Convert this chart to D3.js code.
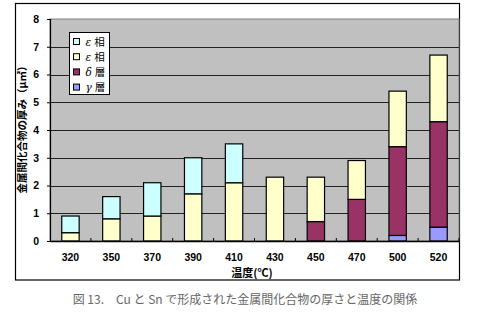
<!DOCTYPE html>
<html>
<head>
<meta charset="utf-8">
<script src="https://cdn.jsdelivr.net/npm/d3@7/dist/d3.min.js"></script>
<style>
  html, body { margin: 0; padding: 0; background: #fff; }
  svg { display: block; }
</style>
</head>
<body>
<svg id="chart" width="491" height="322"></svg>
<script>
// Temperatures (°C) on the category axis
const temperatures = ["320", "350", "370", "390", "410", "430", "450", "470", "500", "520"];

// Layer thicknesses (µm), stacked bottom to top
const gammaLayer   = [0, 0, 0, 0, 0, 0, 0, 0, 0.2, 0.5];
const deltaLayer   = [0, 0, 0, 0, 0, 0, 0.7, 1.5, 3.2, 3.8];
const epsYellow    = [0.3, 0.8, 0.9, 1.7, 2.1, 2.3, 1.6, 1.4, 2.0, 2.4];
const epsCyan      = [0.6, 0.8, 1.2, 1.3, 1.4, 0, 0, 0, 0, 0];

const yTicks = [0, 1, 2, 3, 4, 5, 6, 7, 8];

const seriesKeys   = ["gamma", "delta", "epsY", "epsC"];
const seriesColors = { gamma: "#9999FF", delta: "#993366", epsY: "#FFFFCC", epsC: "#CCFFFF" };
const legendItems  = [
  { key: "epsC",  sym: "ε", word: "相" },
  { key: "epsY",  sym: "ε", word: "相" },
  { key: "delta", sym: "δ", word: "層" },
  { key: "gamma", sym: "γ", word: "層" }
];

const rows = temperatures.map((t, i) => ({
  t, gamma: gammaLayer[i], delta: deltaLayer[i], epsY: epsYellow[i], epsC: epsCyan[i]
}));

const svg = d3.select("#chart");
const plot = { left: 50, top: 19, right: 459, bottom: 241 };

const x = d3.scaleBand().domain(temperatures).range([plot.left, plot.right]).paddingInner(0.575).paddingOuter(0.2875);
const y = d3.scaleLinear().domain([0, 8]).range([plot.bottom, plot.top]);

// Outer chart frame
svg.append("rect")
  .attr("x", 15.5).attr("y", 3.5).attr("width", 444).attr("height", 276.5)
  .attr("fill", "#fff").attr("stroke", "#000").attr("stroke-width", 1.2);

// Plot area background
svg.append("rect")
  .attr("x", plot.left).attr("y", plot.top)
  .attr("width", plot.right - plot.left).attr("height", plot.bottom - plot.top)
  .attr("fill", "#C0C0C0").attr("stroke", "#808080").attr("stroke-width", 1);

// Horizontal gridlines
svg.append("g").selectAll("line").data(yTicks.filter(d => d > 0 && d < 8)).join("line")
  .attr("x1", plot.left).attr("x2", plot.right)
  .attr("y1", d => Math.round(y(d)) + 0.5).attr("y2", d => Math.round(y(d)) + 0.5)
  .attr("stroke", "#222").attr("stroke-width", 1);

// Stacked bars
const stacked = d3.stack().keys(seriesKeys)(rows);
svg.append("g").selectAll("g").data(stacked).join("g")
  .attr("fill", s => seriesColors[s.key])
  .selectAll("rect").data(s => s.filter(d => d[1] - d[0] > 0)).join("rect")
  .attr("x", d => x(d.data.t))
  .attr("width", x.bandwidth())
  .attr("y", d => y(d[1]))
  .attr("height", d => y(d[0]) - y(d[1]))
  .attr("stroke", "#000").attr("stroke-width", 1.2);

// Y axis
const yAxis = d3.axisLeft(y).tickValues(yTicks).tickSize(3).tickPadding(8);
const gy = svg.append("g").attr("transform", `translate(${plot.left},0)`).call(yAxis);
gy.select(".domain").attr("stroke", "#000").attr("stroke-width", 1.2);
gy.selectAll(".tick line").attr("stroke", "#000");
gy.selectAll("text")
  .attr("font-family", "'Liberation Sans', Arial, sans-serif")
  .attr("font-size", 10.5).attr("font-weight", "bold").attr("fill", "#000");

// X axis with tick marks between categories
const xAxis = d3.axisBottom(x).tickSize(0).tickPadding(13);
const gx = svg.append("g").attr("transform", `translate(0,${plot.bottom})`).call(xAxis);
gx.select(".domain").attr("stroke", "#000").attr("stroke-width", 1.6);
gx.selectAll("text")
  .attr("font-family", "'Liberation Sans', Arial, sans-serif")
  .attr("font-size", 10.5).attr("font-weight", "bold").attr("fill", "#000");
const step = x.step();
svg.append("g").selectAll("line").data(temperatures).join("line")
  .attr("x1", (d, i) => plot.left + step * (i + 1))
  .attr("x2", (d, i) => plot.left + step * (i + 1))
  .attr("y1", plot.bottom - 3).attr("y2", plot.bottom)
  .attr("stroke", "#000").attr("stroke-width", 1);

// Axis titles
svg.append("text")
  .attr("x", 252).attr("y", 277)
  .attr("text-anchor", "middle")
  .attr("font-family", "'Noto Sans CJK JP', sans-serif")
  .attr("font-size", 11).attr("font-weight", "bold")
  .text("温度(℃)");

svg.append("text")
  .attr("transform", "translate(26,127) rotate(-90)")
  .attr("text-anchor", "middle")
  .attr("font-family", "'Noto Sans CJK JP', sans-serif")
  .attr("font-size", 10.5).attr("font-weight", "bold")
  .text("金属間化合物の厚み（μ㎡）");

// Legend
const legend = svg.append("g").attr("transform", "translate(69.5,32.5)");
legend.append("rect").attr("width", 40).attr("height", 62)
  .attr("fill", "#fff").attr("stroke", "#000").attr("stroke-width", 1);
const li = legend.selectAll("g").data(legendItems).join("g")
  .attr("transform", (d, i) => `translate(0,${9 + i * 15.2})`);
li.append("rect").attr("x", 4).attr("y", -3).attr("width", 6).attr("height", 6)
  .attr("fill", d => seriesColors[d.key]).attr("stroke", "#000").attr("stroke-width", 1);
const lt = li.append("text").attr("x", 16).attr("y", 4)
  .attr("font-family", "'Noto Sans CJK JP', sans-serif").attr("font-size", 10.5);
lt.append("tspan").attr("font-style", "italic").attr("font-family", "'DejaVu Serif', serif").text(d => d.sym);
lt.append("tspan").attr("dx", 3).text(d => d.word);

// Figure caption
svg.append("text")
  .attr("x", 245).attr("y", 304)
  .attr("text-anchor", "middle")
  .attr("font-family", "'Noto Sans CJK JP', sans-serif")
  .attr("font-size", 12).attr("fill", "#666")
  .text("図 13.　Cu と Sn で形成された金属間化合物の厚さと温度の関係");
</script>
</body>
</html>
